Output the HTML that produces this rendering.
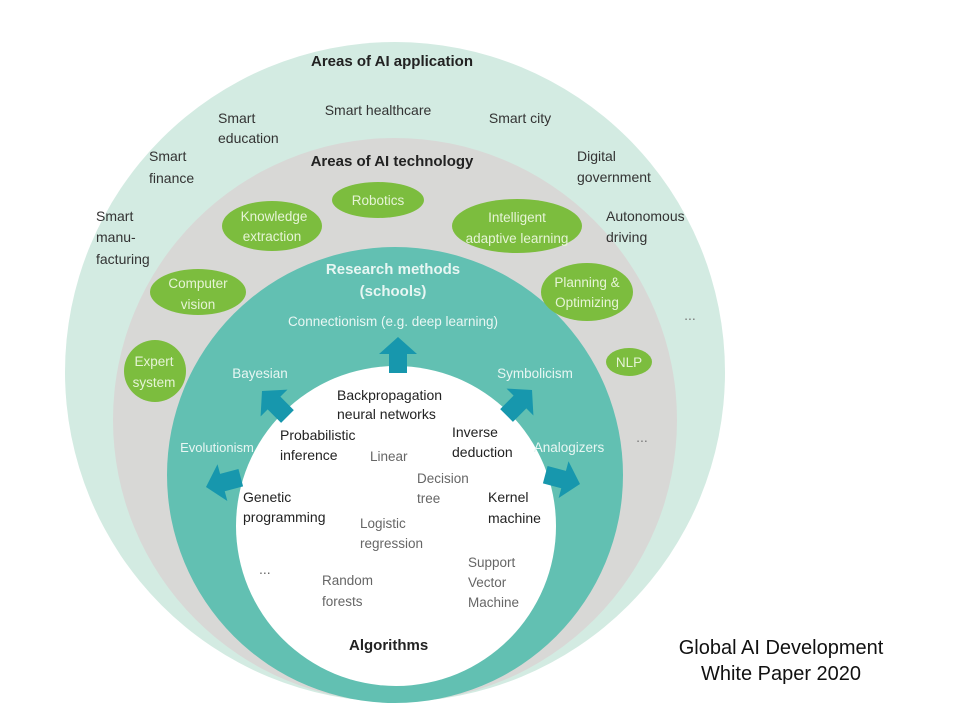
<!DOCTYPE html>
<html><head><meta charset="utf-8"><style>
html,body{margin:0;padding:0;background:#fff;}
svg{display:block;font-family:"Liberation Sans",sans-serif;}
</style></head><body>
<svg width="960" height="703" viewBox="0 0 960 703" xmlns="http://www.w3.org/2000/svg">
<defs>
<polygon id="arr" points="0,0 19,17 9,17 9,36 -9,36 -9,17 -19,17" fill="#1797ad"/>
</defs>
<circle cx="395" cy="372" r="330" fill="#d3ebe2"/>
<circle cx="395" cy="420" r="282" fill="#d8d8d6"/>
<circle cx="395" cy="475" r="228" fill="#62c0b2"/>
<circle cx="396" cy="526" r="160" fill="#ffffff"/>

<g font-size="14" fill="#333" text-anchor="middle">
<text x="392" y="66" font-weight="bold" font-size="15" fill="#222">Areas of AI application</text>
<text x="378" y="115">Smart healthcare</text>
<text x="520" y="123">Smart city</text>
<text x="218" y="123" text-anchor="start">Smart</text>
<text x="218" y="143" text-anchor="start">education</text>
<text x="149" y="161" text-anchor="start">Smart</text>
<text x="149" y="183" text-anchor="start">finance</text>
<text x="96" y="221" text-anchor="start">Smart</text>
<text x="96" y="242" text-anchor="start">manu-</text>
<text x="96" y="264" text-anchor="start">facturing</text>
<text x="577" y="161" text-anchor="start">Digital</text>
<text x="577" y="182" text-anchor="start">government</text>
<text x="606" y="221" text-anchor="start">Autonomous</text>
<text x="606" y="242" text-anchor="start">driving</text>
<text x="690" y="320" font-size="14" fill="#777">...</text>
<text x="642" y="442" font-size="14" fill="#777">...</text>
<text x="392" y="166" font-weight="bold" font-size="15" fill="#222">Areas of AI technology</text>
</g>

<g fill="#7cbd3e">
<ellipse cx="272" cy="226" rx="50" ry="25"/>
<ellipse cx="378" cy="200" rx="46" ry="18"/>
<ellipse cx="517" cy="226" rx="65" ry="27"/>
<ellipse cx="198" cy="292" rx="48" ry="23"/>
<ellipse cx="587" cy="292" rx="46" ry="29"/>
<ellipse cx="155" cy="371" rx="31" ry="31"/>
<ellipse cx="629" cy="362" rx="23" ry="14"/>
</g>
<g font-size="13.5" fill="#e6f4d6" text-anchor="middle">
<text x="274" y="221">Knowledge</text><text x="272" y="241">extraction</text>
<text x="378" y="205">Robotics</text>
<text x="517" y="222">Intelligent</text><text x="517" y="243">adaptive learning</text>
<text x="198" y="288">Computer</text><text x="198" y="309">vision</text>
<text x="587" y="287">Planning &amp;</text><text x="587" y="307">Optimizing</text>
<text x="154" y="366">Expert</text><text x="154" y="387">system</text>
<text x="629" y="367">NLP</text>
</g>

<g text-anchor="middle" fill="#e8f6f3">
<text x="393" y="274" font-weight="bold" font-size="15">Research methods</text>
<text x="393" y="296" font-weight="bold" font-size="15">(schools)</text>
<text x="393" y="326" font-size="13.5">Connectionism (e.g. deep learning)</text>
<text x="260" y="378" font-size="13.5">Bayesian</text>
<text x="535" y="378" font-size="13.5">Symbolicism</text>
<text x="217" y="452" font-size="13">Evolutionism</text>
<text x="569" y="452" font-size="13.5">Analogizers</text>
</g>

<use href="#arr" transform="translate(398,337)"/>
<use href="#arr" transform="translate(262,391) rotate(-45)"/>
<use href="#arr" transform="translate(206,487) rotate(-105)"/>
<use href="#arr" transform="translate(532,390) rotate(45)"/>
<use href="#arr" transform="translate(580,484) rotate(105)"/>

<g font-size="14" fill="#222">
<text x="337" y="400">Backpropagation</text>
<text x="337" y="419">neural networks</text>
<text x="280" y="440">Probabilistic</text>
<text x="280" y="460">inference</text>
<text x="452" y="437">Inverse</text>
<text x="452" y="457">deduction</text>
<text x="243" y="502">Genetic</text>
<text x="243" y="522">programming</text>
<text x="488" y="502">Kernel</text>
<text x="488" y="523">machine</text>
<text x="349" y="650" font-weight="bold" font-size="15">Algorithms</text>
</g>
<g font-size="13.5" fill="#666">
<text x="370" y="461">Linear</text>
<text x="417" y="483">Decision</text>
<text x="417" y="503">tree</text>
<text x="360" y="528">Logistic</text>
<text x="360" y="548">regression</text>
<text x="468" y="567">Support</text>
<text x="468" y="587">Vector</text>
<text x="468" y="607">Machine</text>
<text x="322" y="585">Random</text>
<text x="322" y="606">forests</text>
<text x="259" y="574" font-size="14">...</text>
</g>

<g font-size="20" fill="#111" text-anchor="middle">
<text x="781" y="654">Global AI Development</text>
<text x="781" y="680">White Paper 2020</text>
</g>
</svg>
</body></html>
